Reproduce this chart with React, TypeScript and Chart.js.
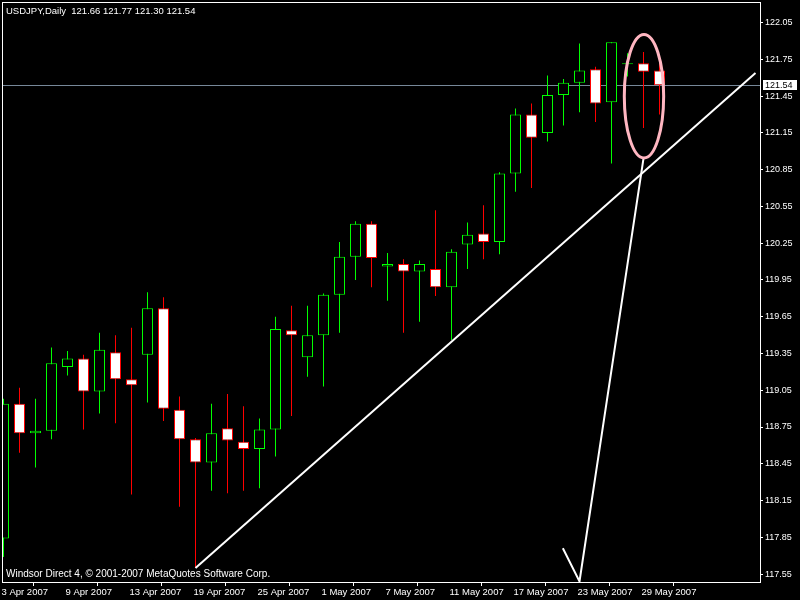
import React, { useEffect, useRef } from "react";
import { Chart, registerables } from "chart.js";

Chart.register(...registerables);

// ---- data ----
const symbolTitle = "USDJPY,Daily";
const opens = [
  117.84, 118.94, 118.70, 118.72, 119.24, 119.31, 119.04, 119.36, 119.14, 119.34,
  119.72, 118.89, 118.65, 118.46, 118.74, 118.63, 118.57, 118.73, 119.54, 119.32,
  119.50, 119.83, 120.14, 120.41, 120.06, 120.08, 120.02, 120.04, 119.89, 120.24,
  120.33, 120.26, 120.82, 121.30, 121.15, 121.46, 121.56, 121.67, 121.40, 121.71,
  121.72, 121.66,
];
const highs = [
  118.98, 119.07, 118.98, 119.40, 119.37, 119.34, 119.52, 119.50, 119.56, 119.85,
  119.81, 119.00, 118.66, 118.94, 119.02, 118.92, 118.82, 119.65, 119.74, 119.74,
  119.84, 120.26, 120.43, 120.43, 120.17, 120.12, 120.11, 120.52, 120.20, 120.42,
  120.56, 120.83, 121.35, 121.39, 121.62, 121.59, 121.88, 121.69, 121.89, 121.80,
  121.81, 121.77,
];
const lows = [
  117.69, 118.54, 118.42, 118.65, 119.17, 118.73, 118.86, 118.78, 118.20, 118.95,
  118.80, 118.10, 117.60, 118.23, 118.21, 118.23, 118.25, 118.51, 118.84, 119.16,
  119.08, 119.52, 119.95, 119.89, 119.78, 119.52, 119.61, 119.82, 119.46, 120.04,
  120.12, 120.16, 120.67, 120.70, 121.08, 121.21, 121.32, 121.24, 120.90, 121.61,
  121.19, 121.30,
];
const closes = [
  118.94, 118.70, 118.72, 119.27, 119.31, 119.04, 119.38, 119.14, 119.09, 119.72,
  118.90, 118.65, 118.46, 118.70, 118.64, 118.57, 118.73, 119.55, 119.50, 119.50,
  119.83, 120.14, 120.41, 120.13, 120.08, 120.02, 120.08, 119.89, 120.18, 120.32,
  120.26, 120.82, 121.30, 121.11, 121.46, 121.56, 121.66, 121.39, 121.89, 121.72,
  121.65, 121.54,
];
const dateTickIndices = [0, 4, 8, 12, 16, 20, 24, 28, 32, 36, 40];
const dateTickLabels = [
  "3 Apr 2007", "9 Apr 2007", "13 Apr 2007", "19 Apr 2007", "25 Apr 2007",
  "1 May 2007", "7 May 2007", "11 May 2007", "17 May 2007", "23 May 2007",
  "29 May 2007",
];
const priceTicks = [
  117.55, 117.85, 118.15, 118.45, 118.75, 119.05, 119.35, 119.65,
  119.95, 120.25, 120.55, 120.85, 121.15, 121.45, 121.75, 122.05,
];
const yMin = 117.485;
const yMax = 122.219;
const xMin = -0.09375;
const xMax = 47.28125;
const bidPrice = 121.54;
// trend line (bar index, price)
const trendX = [12, 47];
const trendY = [117.6, 121.64];
// arrow (bar index, price)
const arrowX = [34.96, 36, 40.01];
const arrowY = [117.76, 117.49, 120.95];
// ellipse (bar index, price, radii in bars / price)
const ellipseCX = 40.03;
const ellipseCY = 121.45;
const ellipseRX = 1.23;
const ellipseRY = 0.504;
const footerText = "Windsor Direct 4, \u00A9 2001-2007 MetaQuotes Software Corp.";

const FONT = '"Liberation Sans", Arial, sans-serif';
const BULL = "#00ff00";
const BEAR = "#ff0000";

export default function App() {
  const ref = useRef<HTMLCanvasElement>(null);

  useEffect(() => {
    const canvas = ref.current;
    if (!canvas) return;
    const idx = closes.map((_, i) => i);
    const isBull = idx.map((i) => closes[i] >= opens[i]);
    const wickData = idx.map((i) => ({ x: i, y: [lows[i], highs[i]] }));
    const bodyData = idx.map((i) => ({ x: i, y: [opens[i], closes[i]] }));
    const lineColors = idx.map((i) => (isBull[i] ? BULL : BEAR));
    const fillColors = idx.map((i) => (isBull[i] ? "#000000" : "#ffffff"));
    const n = closes.length - 1;
    const title = `${symbolTitle}  ${opens[n].toFixed(2)} ${highs[n].toFixed(2)} ${lows[n].toFixed(2)} ${closes[n].toFixed(2)}`;

    const mtPlugin = {
      id: "mt4",
      beforeDraw(chart: any) {
        const { ctx } = chart;
        ctx.save();
        ctx.fillStyle = "#000";
        ctx.fillRect(0, 0, chart.width, chart.height);
        ctx.restore();
      },
      beforeDatasetsDraw(chart: any) {
        const { ctx, chartArea, scales } = chart;
        const y = Math.round(scales.y.getPixelForValue(bidPrice)) + 0.5;
        ctx.save();
        ctx.strokeStyle = "#778899";
        ctx.lineWidth = 1;
        ctx.beginPath();
        ctx.moveTo(chartArea.left, y);
        ctx.lineTo(chartArea.right, y);
        ctx.stroke();
        ctx.restore();
      },
      afterDatasetsDraw(chart: any) {
        const { ctx, scales } = chart;
        const cx = scales.x.getPixelForValue(ellipseCX);
        const cy = scales.y.getPixelForValue(ellipseCY);
        const rx = Math.abs(scales.x.getPixelForValue(ellipseCX + ellipseRX) - cx);
        const ry = Math.abs(scales.y.getPixelForValue(ellipseCY + ellipseRY) - cy);
        ctx.save();
        ctx.strokeStyle = "#ffb6c1";
        ctx.lineWidth = 3;
        ctx.beginPath();
        ctx.ellipse(cx, cy, rx, ry, 0, 0, Math.PI * 2);
        ctx.stroke();
        ctx.restore();
      },
      afterDraw(chart: any) {
        const { ctx, chartArea, scales } = chart;
        ctx.save();
        ctx.strokeStyle = "#fff";
        ctx.lineWidth = 1;
        ctx.strokeRect(
          chartArea.left + 0.5,
          chartArea.top + 0.5,
          chartArea.right - chartArea.left,
          chartArea.bottom - chartArea.top
        );
        ctx.fillStyle = "#fff";
        ctx.textBaseline = "middle";
        ctx.textAlign = "left";
        ctx.font = `9.5px ${FONT}`;
        ctx.fillText(title, 6, 11.5);
        ctx.font = `10px ${FONT}`;
        ctx.fillText(footerText, 6, 574.5);
        // bid price box
        const y = scales.y.getPixelForValue(bidPrice);
        ctx.font = `9px ${FONT}`;
        ctx.fillStyle = "#fff";
        ctx.fillRect(763, Math.round(y) - 5, 34, 10);
        ctx.fillStyle = "#000";
        ctx.fillText(bidPrice.toFixed(2), 765, y + 0.5);
        ctx.restore();
      },
    };

    const chart = new Chart(canvas, {
      type: "bar",
      data: {
        datasets: [
          {
            type: "line",
            data: trendX.map((x, i) => ({ x, y: trendY[i] })),
            borderColor: "#ffffff",
            borderWidth: 2,
            pointRadius: 0,
            order: 0,
          } as any,
          {
            type: "line",
            data: arrowX.map((x, i) => ({ x, y: arrowY[i] })),
            borderColor: "#ffffff",
            borderWidth: 2,
            pointRadius: 0,
            order: 0,
          } as any,
          {
            type: "bar",
            data: bodyData as any,
            backgroundColor: fillColors,
            borderColor: lineColors,
            borderWidth: 1,
            borderSkipped: false,
            barThickness: 11,
            grouped: false,
            inflateAmount: 0,
            order: 1,
          } as any,
          {
            type: "bar",
            data: wickData as any,
            backgroundColor: lineColors,
            borderWidth: 0,
            barThickness: 1,
            grouped: false,
            inflateAmount: 0,
            order: 2,
          } as any,
        ],
      },
      options: {
        responsive: false,
        animation: false,
        events: [],
        layout: { padding: { left: 2, top: 2, right: 0, bottom: 0 } },
        plugins: {
          legend: { display: false },
          tooltip: { enabled: false },
          title: { display: false },
        },
        scales: {
          x: {
            type: "linear",
            min: xMin,
            max: xMax,
            offset: false,
            afterBuildTicks: (s: any) => {
              s.ticks = dateTickIndices.map((i) => ({ value: i - 0.125 }));
            },
            afterFit: (s: any) => {
              s.height = 18;
              s.paddingLeft = 0;
              s.paddingRight = 0;
            },
            grid: { drawOnChartArea: false, drawTicks: true, tickLength: 4, color: "#ffffff" },
            border: { display: true, color: "#ffffff", width: 1 },
            ticks: {
              color: "#ffffff",
              font: { family: FONT, size: 9.5 },
              padding: 1,
              align: "start",
              maxRotation: 0,
              minRotation: 0,
              autoSkip: false,
              callback: (_v: any, i: number) => dateTickLabels[i],
            },
          } as any,
          y: {
            type: "linear",
            position: "right",
            min: yMin,
            max: yMax,
            afterBuildTicks: (s: any) => {
              s.ticks = priceTicks.map((v) => ({ value: v }));
            },
            afterFit: (s: any) => {
              s.width = 40;
              s.paddingTop = 0;
              s.paddingBottom = 0;
            },
            grid: { drawOnChartArea: false, drawTicks: true, tickLength: 3, color: "#ffffff" },
            border: { display: true, color: "#ffffff", width: 1 },
            ticks: {
              color: "#ffffff",
              font: { family: FONT, size: 9 },
              padding: 2,
              autoSkip: false,
              callback: (v: any) => Number(v).toFixed(2),
            },
          } as any,
        },
      },
      plugins: [mtPlugin],
    });
    return () => chart.destroy();
  }, []);

  return (
    <div style={{ position: "fixed", left: 0, top: 0, width: 800, height: 600, background: "#000" }}>
      <canvas ref={ref} width={800} height={600} style={{ display: "block" }} />
    </div>
  );
}
